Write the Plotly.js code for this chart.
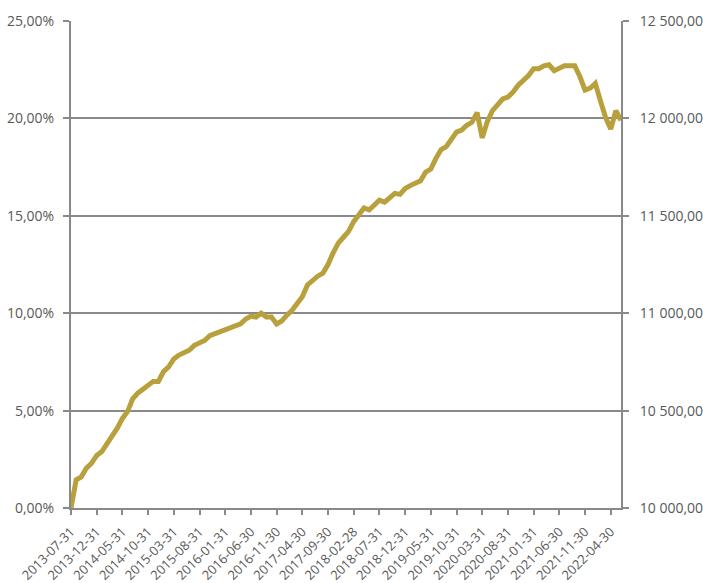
<!DOCTYPE html>
<html>
<head>
<meta charset="utf-8">
<script src="https://cdn.plot.ly/plotly-3.0.1.min.js"></script>
<style>
  html, body { margin: 0; padding: 0; background: #ffffff; }
  #chart { width: 703px; height: 583px; }
</style>
</head>
<body>
<div id="chart"></div>
<script>
// Month-end valuation dates
const months = [
  "2013-07-31","2013-08-31","2013-09-30","2013-10-31","2013-11-30","2013-12-31",
  "2014-01-31","2014-02-28","2014-03-31","2014-04-30","2014-05-31","2014-06-30","2014-07-31","2014-08-31","2014-09-30","2014-10-31","2014-11-30","2014-12-31",
  "2015-01-31","2015-02-28","2015-03-31","2015-04-30","2015-05-31","2015-06-30","2015-07-31","2015-08-31","2015-09-30","2015-10-31","2015-11-30","2015-12-31",
  "2016-01-31","2016-02-29","2016-03-31","2016-04-30","2016-05-31","2016-06-30","2016-07-31","2016-08-31","2016-09-30","2016-10-31","2016-11-30","2016-12-31",
  "2017-01-31","2017-02-28","2017-03-31","2017-04-30","2017-05-31","2017-06-30","2017-07-31","2017-08-31","2017-09-30","2017-10-31","2017-11-30","2017-12-31",
  "2018-01-31","2018-02-28","2018-03-31","2018-04-30","2018-05-31","2018-06-30","2018-07-31","2018-08-31","2018-09-30","2018-10-31","2018-11-30","2018-12-31",
  "2019-01-31","2019-02-28","2019-03-31","2019-04-30","2019-05-31","2019-06-30","2019-07-31","2019-08-31","2019-09-30","2019-10-31","2019-11-30","2019-12-31",
  "2020-01-31","2020-02-29","2020-03-31","2020-04-30","2020-05-31","2020-06-30","2020-07-31","2020-08-31","2020-09-30","2020-10-31","2020-11-30","2020-12-31",
  "2021-01-31","2021-02-28","2021-03-31","2021-04-30","2021-05-31","2021-06-30","2021-07-31","2021-08-31","2021-09-30","2021-10-31","2021-11-30","2021-12-31",
  "2022-01-31","2022-02-28","2022-03-31","2022-04-30","2022-05-31","2022-06-30"
];

// Cumulative return since inception, in percent
const cumulativeReturnPct = [
  0.00, 1.45, 1.60, 2.05, 2.30, 2.70, 2.90, 3.30, 3.65, 4.10,
  4.60, 4.95, 5.60, 5.90, 6.10, 6.30, 6.50, 6.50, 7.00, 7.25,
  7.65, 7.85, 7.95, 8.10, 8.35, 8.45, 8.60, 8.85, 8.95, 9.05,
  9.15, 9.30, 9.40, 9.45, 9.70, 9.85, 9.80, 10.00, 9.80, 9.80,
  9.45, 9.60, 9.90, 10.15, 10.50, 10.85, 11.45, 11.70, 11.90, 12.05,
  12.50, 13.10, 13.60, 13.90, 14.20, 14.70, 15.10, 15.40, 15.30, 15.55,
  15.80, 15.70, 15.95, 16.15, 16.10, 16.40, 16.55, 16.70, 16.80, 17.25,
  17.40, 17.95, 18.40, 18.55, 18.90, 19.30, 19.40, 19.65, 19.80, 20.30,
  19.00, 19.85, 20.40, 20.75, 21.00, 21.10, 21.35, 21.70, 21.95, 22.20,
  22.55, 22.55, 22.70, 22.75, 22.45, 22.60, 22.70, 22.70, 22.70, 22.15,
  21.45, 21.55, 21.80, 20.90, 20.05, 19.45, 20.40, 19.90
];

// Value of a 10 000 investment, right-hand scale
const startValue = 10000;
const portfolioValue = cumulativeReturnPct.map(p => startValue * (1 + p / 100));

// Labelled dates along the bottom axis (every fifth month)
const tickDates = months.filter((d, i) => i % 5 === 0);

const axisGrey = "#898989";
const textGrey = "#595959";
const gold = "#B8A03C";
const tickFont = { family: "Open Sans, sans-serif", size: 14, color: textGrey };

const traces = [
  {
    x: months,
    y: cumulativeReturnPct,
    type: "scatter",
    mode: "lines",
    line: { color: gold, width: 5 },
    hoverinfo: "x+y",
    showlegend: false
  },
  {
    x: months,
    y: portfolioValue,
    yaxis: "y2",
    type: "scatter",
    mode: "lines",
    line: { color: gold, width: 5 },
    opacity: 0,
    hoverinfo: "skip",
    showlegend: false
  }
];

const layout = {
  width: 703,
  height: 583,
  margin: { l: 71, r: 82, t: 21, b: 75, pad: 0 },
  paper_bgcolor: "#ffffff",
  plot_bgcolor: "#ffffff",
  separators: ", ",
  showlegend: false,
  xaxis: {
    type: "category",
    range: [0, months.length - 1],
    tickmode: "array",
    tickvals: tickDates,
    ticktext: tickDates,
    tickangle: -45,
    tickfont: { family: "Open Sans, sans-serif", size: 13, color: textGrey },
    ticklabelstandoff: 4,
    showgrid: false,
    showline: true,
    linecolor: axisGrey,
    linewidth: 2,
    ticks: "outside",
    ticklen: 5,
    tickwidth: 2,
    tickcolor: axisGrey,
    zeroline: false,
    fixedrange: true
  },
  yaxis: {
    range: [0, 25],
    tickmode: "linear",
    tick0: 0,
    dtick: 5,
    tickformat: ".2f",
    ticksuffix: "%",
    tickfont: tickFont,
    showgrid: true,
    gridcolor: axisGrey,
    gridwidth: 2,
    showline: true,
    linecolor: axisGrey,
    linewidth: 2,
    ticks: "outside",
    ticklen: 6,
    tickwidth: 2,
    tickcolor: axisGrey,
    ticklabelstandoff: 6,
    zeroline: false,
    fixedrange: true
  },
  yaxis2: {
    overlaying: "y",
    side: "right",
    range: [10000, 12500],
    tickmode: "linear",
    tick0: 10000,
    dtick: 500,
    tickformat: ",.2f",
    tickfont: tickFont,
    showgrid: false,
    showline: true,
    linecolor: axisGrey,
    linewidth: 2,
    ticks: "outside",
    ticklen: 6,
    tickwidth: 2,
    tickcolor: axisGrey,
    ticklabelstandoff: 8,
    zeroline: false,
    fixedrange: true
  }
};

Plotly.newPlot("chart", traces, layout, { displayModeBar: false, staticPlot: true });
</script>
</body>
</html>
